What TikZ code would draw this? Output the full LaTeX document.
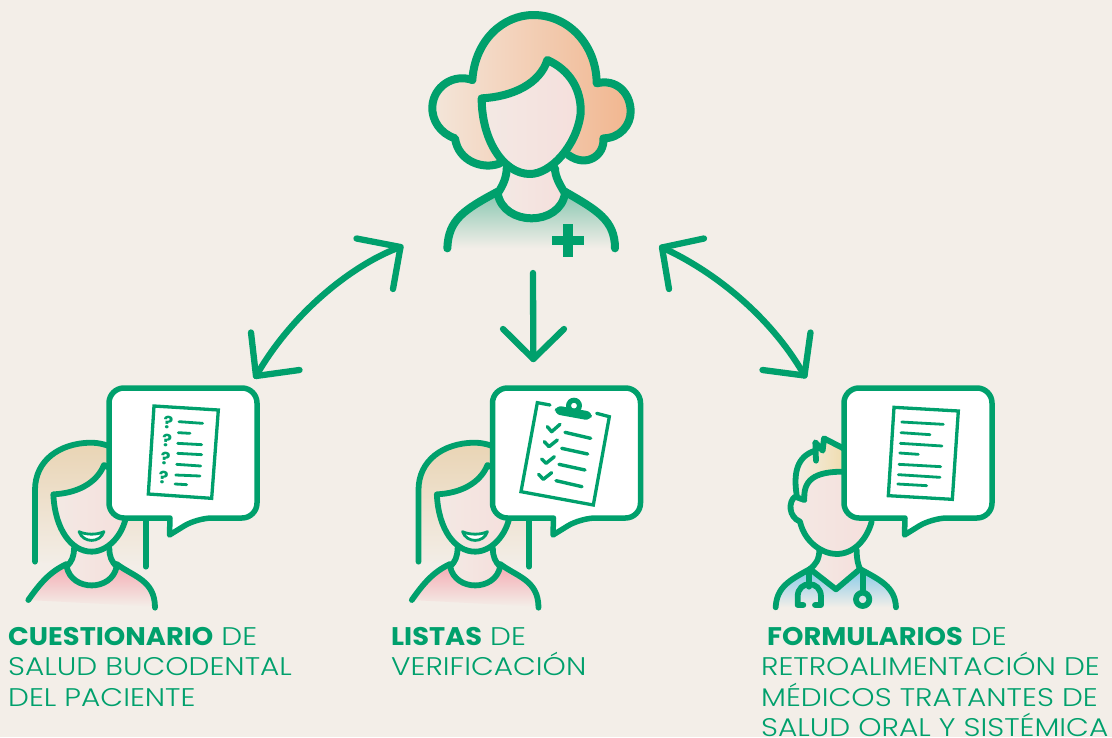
\documentclass[tikz,border=0pt]{standalone}
\usepackage{fontspec}
\setmainfont{Poppins}[UprightFont=* Light,BoldFont=* Bold,FakeStretch=1.16,BoldFeatures={FakeStretch=1.07}]
\definecolor{bgc}{HTML}{F3EEE8}
\definecolor{grn}{HTML}{00A06C}
\definecolor{face}{HTML}{F5DFDC}
\definecolor{faceL}{HTML}{F3E9E4}
\definecolor{hairA}{HTML}{F3E6DA}
\definecolor{hairB}{HTML}{F2B68F}
\definecolor{blond}{HTML}{E9D4B4}
\definecolor{pink}{HTML}{F4A5AE}
\definecolor{teal}{HTML}{86C6B0}
\definecolor{sky}{HTML}{83C9E8}
\definecolor{yel}{HTML}{F0DDB0}
\tikzset{
 nurseln/.style={draw=grn,line width=8pt,line cap=round,line join=round},
 ln/.style={draw=grn,line width=5.8pt,line cap=round,line join=round},
 fine/.style={draw=grn,line width=2.8pt,line cap=round},
 paper/.style={draw=grn,line width=3.3pt,line join=miter},
 arrowln/.style={draw=grn,line width=6.3pt,line cap=round,line join=round},
 bubble/.style={draw=grn,line width=5.5pt,fill=white,line join=round},
 lab/.style={anchor=north west,inner sep=0pt,text=grn,font=\fontsize{25.5}{30.5}\selectfont,align=left},
 qm/.style={inner sep=0pt,text=grn,rotate=-3,font=\fontsize{17}{17}\selectfont\bfseries},
}
\newcommand{\femalepatient}[2]{%
 \begin{scope}[shift={(#1,#2)},scale=1/3]
  \shade[top color=blond,bottom color=bgc] (105,545) -- (105,330) .. controls (105,240) and (180,190) .. (270,188) .. controls (330,188) and (400,220) .. (437,290) -- (437,560) -- cycle;
  \shade[top color=pink,bottom color=bgc] (85,660) .. controls (120,610) and (150,570) .. (210,545) -- (270,600) -- (340,545) .. controls (400,580) and (465,600) .. (465,680) -- cycle;
  \shade[left color=faceL,right color=face] (160,343) .. controls (230,340) and (290,310) .. (312,255) .. controls (370,280) and (385,340) .. (380,400) .. controls (370,470) and (320,515) .. (275,515) .. controls (215,515) and (165,450) .. (160,343) -- cycle;
  \shade[left color=faceL,right color=face] (222,505) .. controls (222,530) and (215,545) .. (200,560) .. controls (220,630) and (330,630) .. (350,560) .. controls (335,545) and (328,530) .. (328,505) -- cycle;
  \draw[ln] (105,545) -- (105,330) .. controls (105,240) and (180,190) .. (270,188) .. controls (300,188) and (320,195) .. (345,205);
  \draw[ln] (437,400) -- (437,560);
  \draw[ln] (160,343) .. controls (230,340) and (290,310) .. (312,255) .. controls (370,280) and (385,340) .. (380,400) .. controls (370,470) and (320,515) .. (275,515) .. controls (215,515) and (165,450) .. (160,343) -- cycle;
  \draw[ln] (222,505) .. controls (222,530) and (215,545) .. (200,560) .. controls (215,635) and (335,635) .. (350,560) .. controls (335,545) and (328,530) .. (328,505);
  \draw[ln] (85,660) .. controls (120,610) and (150,575) .. (200,552);
  \draw[ln] (350,552) .. controls (400,590) and (465,600) .. (465,683);
  \draw[draw=grn,fill=white,line width=2.8pt,line join=round] (237,455) .. controls (260,465) and (290,465) .. (312,455) .. controls (300,490) and (250,490) .. (237,455) -- cycle;
 \end{scope}}
\newcommand{\speech}[1]{%
 \begin{scope}[shift={(#1,0)}]
  \path[bubble,rounded corners=15pt] (170,518) -- (109,518) -- (109,388) -- (257,388) -- (257,518) -- (197,518) [sharp corners] -- (169.5,535) -- cycle;
 \end{scope}}
\begin{document}
\begin{tikzpicture}[x=1pt,y=-1pt]
\useasboundingbox[fill=bgc] (0,0) rectangle (1112,737);
% nurse
\begin{scope}[shift={(420,0)},scale=1/3]
 \shade[left color=hairA,right color=hairB] (157,240) .. controls (165,120) and (250,45) .. (340,45) .. controls (450,45) and (530,140) .. (530,250) .. controls (590,235) and (632,280) .. (632,335) .. controls (632,375) and (600,415) .. (550,415) .. controls (555,465) and (500,505) .. (445,465) -- (240,490) .. controls (190,510) and (115,485) .. (105,415) .. controls (60,400) and (35,360) .. (37,320) .. controls (40,260) and (100,220) .. (157,240) -- cycle;
 \shade[top color=teal,bottom color=bgc] (82,745) .. controls (85,660) and (130,630) .. (230,575) -- (335,650) -- (435,575) .. controls (530,630) and (585,660) .. (585,745) -- cycle;
 \shade[left color=faceL,right color=face] (260,505) .. controls (260,530) and (250,555) .. (233,580) .. controls (250,680) and (420,680) .. (435,580) .. controls (420,555) and (405,530) .. (405,505) -- cycle;
 \shade[left color=faceL,right color=face] (185,295) .. controls (280,290) and (360,250) .. (382,180) .. controls (450,210) and (485,270) .. (482,340) .. controls (470,440) and (390,522) .. (330,522) .. controls (250,522) and (185,420) .. (185,295) -- cycle;
 \draw[nurseln] (157,240) .. controls (165,120) and (250,45) .. (340,45) .. controls (450,45) and (530,140) .. (530,250) .. controls (590,235) and (632,280) .. (632,335) .. controls (632,375) and (600,415) .. (550,415) .. controls (555,465) and (500,505) .. (445,465);
 \draw[nurseln] (157,240) .. controls (100,220) and (40,260) .. (37,320) .. controls (35,360) and (60,400) .. (105,415) .. controls (115,485) and (190,510) .. (240,490);
 \draw[nurseln] (185,295) .. controls (280,290) and (360,250) .. (382,180) .. controls (450,210) and (485,270) .. (482,340) .. controls (470,440) and (390,522) .. (330,522) .. controls (250,522) and (185,420) .. (185,295) -- cycle;
 \draw[nurseln] (260,505) .. controls (260,530) and (250,555) .. (233,580) .. controls (250,680) and (420,680) .. (435,580) .. controls (420,555) and (405,530) .. (405,505);
 \draw[nurseln] (82,745) .. controls (85,660) and (130,630) .. (233,575);
 \draw[nurseln] (435,575) .. controls (530,630) and (585,660) .. (585,745);
 \draw[grn,line width=9.5pt] (444,672) -- (444,770) (397,721) -- (492,721);
\end{scope}
% patients
\femalepatient{0}{380}
\femalepatient{383.5}{380}
% doctor
\begin{scope}[shift={(760,380)},scale=1/3]
 \shade[left color=bgc,right color=yel] (110,350) .. controls (100,280) and (110,225) .. (165,205) -- (192,175) -- (250,205) -- (250,275) .. controls (180,275) and (130,290) .. (133,355) -- cycle;
 \shade[top color=sky,bottom color=bgc] (47,682) .. controls (50,620) and (90,600) .. (150,567) -- (228,628) -- (300,567) .. controls (360,600) and (405,620) .. (408,682) -- cycle;
 \shade[left color=faceL,right color=face] (178,510) .. controls (178,540) and (165,555) .. (150,567) -- (228,628) -- (300,567) .. controls (295,555) and (290,540) .. (290,510) -- cycle;
 \shade[left color=faceL,right color=face] (133,355) .. controls (130,290) and (180,275) .. (250,275) -- (340,275) -- (335,425) .. controls (320,480) and (280,522) .. (230,522) .. controls (190,522) and (140,490) .. (120,425) .. controls (85,410) and (80,365) .. (105,350) -- cycle;
 \draw[ln] (110,345) .. controls (100,280) and (110,230) .. (165,212);
 \draw[ln] (168,242) -- (166,187) -- (188,212) -- (192,175) -- (250,205);
 \draw[ln] (133,355) .. controls (130,290) and (180,275) .. (250,275);
 \draw[ln] (133,360) -- (105,350) .. controls (85,365) and (85,410) .. (120,425) .. controls (135,490) and (190,522) .. (230,522) .. controls (280,522) and (320,480) .. (335,425);
 \draw[ln] (178,510) .. controls (178,540) and (165,555) .. (150,567) -- (228,628) -- (300,567) .. controls (295,555) and (290,540) .. (290,510);
 \draw[ln] (47,682) .. controls (50,620) and (90,600) .. (150,567);
 \draw[ln] (300,567) .. controls (360,600) and (405,620) .. (408,682);
 \draw[ln] (147,575) -- (147,620);
 \draw[ln] (130,675) -- (113,675) -- (113,650) .. controls (113,600) and (183,600) .. (183,650) -- (183,675) -- (165,675);
 \draw[ln] (308,580) -- (308,635);
 \draw[ln] (308,658) circle (20);
\end{scope}
% speech bubbles
\speech{0}
\speech{383.5}
\speech{735}
% questionnaire sheet
\begin{scope}[shift={(0,380)},scale=1/3]
 \draw[paper] (462,78) -- (655,90) -- (635,355) -- (445,342) -- cycle;
 \draw[fine] (537,125) -- (608,130) (535,158) -- (570,160) (533,190) -- (605,194) (533,220) -- (605,224) (530,253) -- (602,258) (527,285) -- (600,288) (525,312) -- (560,314);
 \node[qm] (q1) at (505,127) {?};
 \node[qm] (q2) at (501,182) {?};
 \node[qm] (q3) at (497,237) {?};
 \node[qm] (q4) at (491,293) {?};
\end{scope}
% clipboard
\begin{scope}[shift={(400,380)},scale=1/3]
 \draw[paper,line cap=round] (450,75) -- (412,68) -- (363,335) -- (580,375) -- (628,110) -- (590,100);
 \fill[grn,rounded corners=6pt] (468,76) -- (578,96) -- (572,122) -- (462,102) -- cycle;
 \fill[grn,even odd rule] (522,77) circle (24) (522,77) circle (9);
 \draw[fine,line width=3.4pt,line join=round] (442,140) -- (455,155) -- (480,133) (433,185) -- (447,200) -- (472,180) (425,237) -- (438,250) -- (463,230) (416,283) -- (430,298) -- (455,278);
 \draw[fine,line width=3.4pt] (495,157) -- (572,175) (485,205) -- (563,222) (477,253) -- (555,270) (468,302) -- (546,320);
\end{scope}
% feedback sheet
\begin{scope}[shift={(760,380)},scale=1/3]
 \draw[paper] (402,82) -- (595,93) -- (577,358) -- (385,347) -- cycle;
 \draw[fine] (425,126) -- (550,133) (423,158) -- (510,164) (421,190) -- (546,198) (419,219) -- (475,223) (417,253) -- (542,260) (415,284) -- (540,292) (413,312) -- (500,317);
\end{scope}
% connectors
\coordinate (nurseL) at (400.5,247);
\coordinate (nurseLa) at (356.5,238.5);
\coordinate (nurseLb) at (393,289);
\coordinate (nurseM) at (533,273);
\coordinate (nurseR) at (662,247.5);
\coordinate (nurseRa) at (704,238.5);
\coordinate (nurseRb) at (669,289);
\coordinate (boxA) at (256,376);
\coordinate (boxAa) at (251,332.5);
\coordinate (boxAb) at (299.5,370);
\coordinate (boxB) at (533.3,359);
\coordinate (boxBa) at (503,329);
\coordinate (boxBb) at (564,329);
\coordinate (boxC) at (804.5,375.5);
\coordinate (boxCa) at (810.5,332.5);
\coordinate (boxCb) at (762.5,370);
\draw[arrowln] (nurseL) .. controls (358,262) and (295,308) .. (boxA);
\draw[arrowln] (nurseLa) -- (nurseL) -- (nurseLb);
\draw[arrowln] (boxAa) -- (boxA) -- (boxAb);
\draw[arrowln] (nurseM) -- (boxB);
\draw[arrowln] (boxBa) -- (boxB) -- (boxBb);
\draw[arrowln] (nurseR) .. controls (712,270) and (770,315) .. (boxC);
\draw[arrowln] (nurseRa) -- (nurseR) -- (nurseRb);
\draw[arrowln] (boxCa) -- (boxC) -- (boxCb);
% labels
\node[lab] (labA) at (8,627) {\textbf{CUESTIONARIO} DE\\SALUD BUCODENTAL\\DEL PACIENTE};
\node[lab] (labB) at (391,627) {\textbf{LISTAS} DE\\VERIFICACIÓN};
\node[lab] (labC) at (761,627) {\hspace{6pt}\textbf{FORMULARIOS} DE\\RETROALIMENTACIÓN DE\\MÉDICOS TRATANTES DE\\SALUD ORAL Y SISTÉMICA};
\end{tikzpicture}
\end{document}
